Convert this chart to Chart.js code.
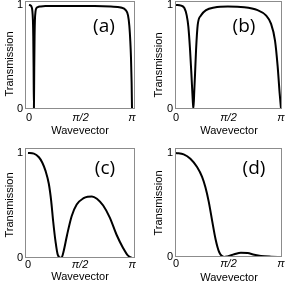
<!DOCTYPE html>
<html><head><meta charset="utf-8">
<script src="https://cdn.jsdelivr.net/npm/chart.js@4/dist/chart.umd.min.js"></script>
<style>
html,body{margin:0;padding:0;background:#fff;width:288px;height:288px;overflow:hidden}
canvas{position:absolute}
</style></head><body>
<canvas id="ca" width="144" height="144" style="left:0;top:0"></canvas>
<canvas id="cb" width="144" height="144" style="left:144px;top:0"></canvas>
<canvas id="cc" width="144" height="144" style="left:0;top:144px"></canvas>
<canvas id="cd" width="144" height="144" style="left:144px;top:144px"></canvas>
<script>
const PI = Math.PI;
const xTickValues = [0, PI / 2, PI];
const xTickLabels = ['0', 'π/2', 'π'];
const yTickValues = [0, 1];
const yTickLabels = ['0', '1'];
const panelLetters = ['(a)', '(b)', '(c)', '(d)'];
const xTitle = 'Wavevector';
const yTitle = 'Transmission';

// (a)
const kA = [0, 0.05, 0.08, 0.10, 0.12, 0.13, 0.14, 0.15, 0.16, 0.17, 0.18, 0.20, 0.23, 0.27, 0.35, 0.5, 1.0, 1.5, 2.0, 2.5, 2.8, 2.95, 3.02, 3.06, 3.09, 3.11, 3.13, PI];
const tA = [1.0, 0.995, 0.98, 0.95, 0.85, 0.7, 0.4, 0.0, 0.4, 0.7, 0.85, 0.94, 0.97, 0.98, 0.985, 0.99, 0.99, 0.99, 0.99, 0.985, 0.975, 0.95, 0.9, 0.8, 0.65, 0.5, 0.25, 0];
// (b)
const kB = [0, 0.15, 0.25, 0.32, 0.37, 0.42, 0.46, 0.50, 0.52, 0.55, 0.57, 0.60, 0.65, 0.75, 0.90, 1.15, 1.55, 2.04, 2.44, 2.69, 2.84, 2.96, 3.04, 3.10, PI];
const tB = [1.0, 0.994, 0.97, 0.90, 0.79, 0.57, 0.34, 0.09, 0.0, 0.2, 0.34, 0.57, 0.81, 0.90, 0.95, 0.975, 0.984, 0.978, 0.95, 0.90, 0.82, 0.66, 0.41, 0.15, 0];
// (c)
const kC = [0, 0.18, 0.33, 0.43, 0.53, 0.63, 0.70, 0.76, 0.83, 0.90, 1.007, 1.08, 1.18, 1.32, 1.47, 1.68, 1.80, 1.93, 2.08, 2.27, 2.47, 2.67, 2.87, 3.02, PI];
const tC = [1.0, 0.994, 0.96, 0.91, 0.83, 0.705, 0.545, 0.35, 0.16, 0.03, 0.0, 0.07, 0.22, 0.40, 0.51, 0.57, 0.584, 0.587, 0.565, 0.50, 0.385, 0.224, 0.096, 0.022, 0];
// (d)
const kD = [0, 0.23, 0.43, 0.63, 0.78, 0.88, 0.98, 1.08, 1.18, 1.29, 1.44, 1.54, 1.74, 1.94, 2.14, 2.34, 2.54, 2.84, PI];
const tD = [1.0, 0.987, 0.945, 0.865, 0.77, 0.67, 0.53, 0.35, 0.176, 0.048, 0.0, 0.006, 0.026, 0.042, 0.038, 0.022, 0.01, 0.003, 0];

const panels = [
  {id: 'ca', k: kA, t: tA, xmin: -0.122, xmax: 3.233, ymax: 1.038, yW: 25, xH: 35, pad: {top: 1, right: 9}, xTickPad: 2, letter: [104, 27], yT: [10, 64], xT: [80, 131]},
  {id: 'cb', k: kB, t: tB, xmin: -0.03, xmax: 3.17, ymax: 1.038, yW: 31, xH: 35, pad: {top: 1, right: 6}, xTickPad: 2, letter: [100, 27], yT: [15, 65], xT: [85, 131]},
  {id: 'cc', k: kC, t: tC, xmin: -0.09, xmax: 3.23, ymax: 1.048, yW: 25, xH: 30, pad: {top: 4, right: 9}, xTickPad: 0, letter: [105, 25], yT: [10, 61], xT: [80, 133]},
  {id: 'cd', k: kD, t: tD, xmin: -0.03, xmax: 3.17, ymax: 1.048, yW: 31, xH: 31, pad: {top: 4, right: 6}, xTickPad: 0, letter: [110, 25], yT: [15, 59], xT: [85, 134]}
];

const textPlugin = {
  id: 'panelText',
  afterDraw(chart, args, opts) {
    const ctx = chart.ctx, a = chart.chartArea;
    ctx.save();
    ctx.strokeStyle = '#8c8c8c';
    ctx.lineWidth = 1;
    ctx.strokeRect(Math.round(a.left) + 0.5, Math.round(a.top) + 0.5, Math.round(a.right - a.left) - 1, Math.round(a.bottom - a.top) - 1);
    ctx.fillStyle = '#000';
    ctx.textAlign = 'center';
    ctx.textBaseline = 'middle';
    ctx.font = '19px "Open Sans"';
    ctx.fillText(opts.letter, opts.lp[0], opts.lp[1]);
    ctx.font = '11px "Liberation Sans"';
    ctx.fillText(xTitle, opts.xT[0], opts.xT[1]);
    ctx.translate(opts.yT[0], opts.yT[1]);
    ctx.rotate(-Math.PI / 2);
    ctx.fillText(yTitle, 0, 0);
    ctx.restore();
  }
};

panels.forEach((p, i) => {
  new Chart(document.getElementById(p.id), {
    type: 'line',
    data: {
      datasets: [{
        data: p.k.map((k, j) => ({x: k, y: p.t[j]})),
        borderColor: '#000',
        borderWidth: 2,
        pointRadius: 0,
        cubicInterpolationMode: 'monotone',
        fill: false
      }]
    },
    options: {
      responsive: false,
      animation: false,
      devicePixelRatio: 1,
      layout: {padding: {top: p.pad.top, right: p.pad.right, left: 0, bottom: 0}},
      plugins: {
        legend: {display: false},
        tooltip: {enabled: false},
        panelText: {letter: panelLetters[i], lp: p.letter, xT: p.xT, yT: p.yT}
      },
      scales: {
        x: {
          type: 'linear', min: p.xmin, max: p.xmax,
          grid: {display: false, drawTicks: false},
          border: {display: false},
          afterFit: s => { s.height = p.xH; s.paddingLeft = 0; s.paddingRight = 0; },
          afterBuildTicks: s => { s.ticks = xTickValues.map(v => ({value: v})); },
          ticks: {
            padding: p.xTickPad, color: '#000', maxRotation: 0, autoSkip: false,
            font: c => ({family: '"Liberation Sans"', size: 11, style: c.index === 0 ? 'normal' : 'italic'}),
            callback: (v, idx) => xTickLabels[idx]
          }
        },
        y: {
          type: 'linear', min: 0, max: p.ymax,
          grid: {display: false, drawTicks: false},
          border: {display: false},
          afterFit: s => { s.width = p.yW; s.paddingTop = 0; s.paddingBottom = 0; },
          afterBuildTicks: s => { s.ticks = yTickValues.map(v => ({value: v})); },
          ticks: {
            padding: 2, color: '#000', autoSkip: false,
            font: {family: '"Liberation Sans"', size: 11},
            callback: (v, idx) => yTickLabels[idx]
          }
        }
      }
    },
    plugins: [textPlugin]
  });
});
</script>
</body></html>
